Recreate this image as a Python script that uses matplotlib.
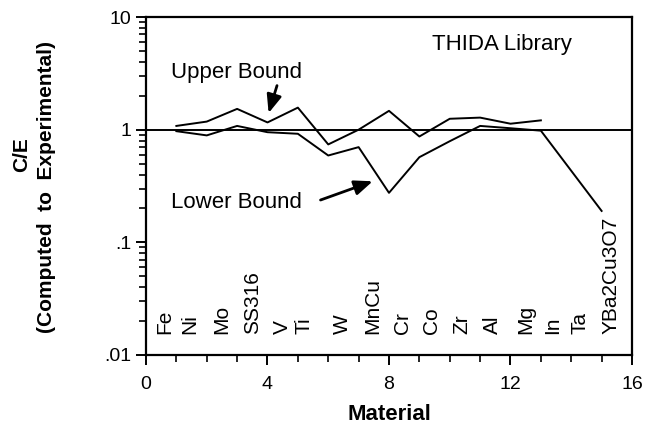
import matplotlib.pyplot as plt
import numpy as np

plt.rcParams['font.family'] = ['Liberation Sans', 'DejaVu Sans']

# C/E ratio per material index
upper_x = [1, 2, 3, 4, 5, 6, 7, 8, 9, 10, 11, 12, 13]
upper_y = [1.08, 1.18, 1.53, 1.16, 1.57, 0.74, 1.0, 1.47, 0.87, 1.25, 1.28, 1.13, 1.21]
lower_x = [1, 2, 3, 4, 5, 6, 7, 8, 9, 10, 11, 12, 13, 15]
lower_y = [0.97, 0.89, 1.08, 0.95, 0.92, 0.59, 0.70, 0.275, 0.57, 0.79, 1.08, 1.03, 0.98, 0.19]

materials = ['Fe', 'Ni', 'Mo', 'SS316', 'V', 'Ti', 'W', 'MnCu', 'Cr', 'Co',
             'Zr', 'Al', 'Mg', 'In', 'Ta', 'YBa2Cu3O7']
mat_pos = [0.62, 1.45, 2.49, 3.52, 4.5, 5.2, 6.48, 7.47, 8.45, 9.4,
           10.4, 11.4, 12.5, 13.4, 14.3, 15.3]

fig = plt.figure(figsize=(6.48, 4.26), dpi=100)
ax = fig.add_axes([0.2253, 0.1667, 0.75, 0.7933])

ax.plot(upper_x, upper_y, color='black', lw=1.4)
ax.plot(lower_x, lower_y, color='black', lw=1.4)
ax.axhline(1.0, color='black', lw=1.4)

ax.set_yscale('log')
ax.set_ylim(0.01, 10)
ax.set_xlim(0, 16)
ax.set_xticks([0, 4, 8, 12, 16])
ax.set_xticks(np.arange(0, 17, 1), minor=True)
ax.set_yticks([0.01, 0.1, 1, 10])
ax.set_yticklabels(['.01', '.1', '1', '10'])
minor_y = [s * d for d in (0.01, 0.1, 1) for s in range(2, 10)]
ax.set_yticks(minor_y, minor=True)
ax.set_yticklabels([], minor=True)
ax.tick_params(axis='both', which='major', direction='out', length=7, width=1.4, labelsize=14)
ax.tick_params(axis='both', which='minor', direction='out', length=5, width=1.2)
ax.tick_params(axis='x', pad=8)
for s in ax.spines.values():
    s.set_linewidth(1.6)

for name, xp in zip(materials, mat_pos):
    ax.text(xp, 0.0155, name, rotation=90, ha='center', va='bottom', fontsize=15)

ax.text(9.41, 5.76, 'THIDA Library', fontsize=16, va='center')
ax.text(0.82, 3.25, 'Upper Bound', fontsize=16, va='center')
ax.text(0.82, 0.224, 'Lower Bound', fontsize=16, va='center')
arrow = dict(arrowstyle='-|>,head_width=0.45,head_length=1.1', color='black', lw=2.0)
ax.annotate('', xy=(4.01, 1.33), xytext=(4.34, 2.6), arrowprops=arrow)
ax.annotate('', xy=(7.55, 0.355), xytext=(5.66, 0.233), arrowprops=arrow)

ax.set_xlabel('Material', fontsize=16, fontweight='bold', labelpad=8)
fig.text(0.033, 1 - 155 / 426, 'C/E', rotation=90, ha='center', va='center',
         fontsize=15, fontweight='bold')
fig.text(0.071, 1 - 187 / 426, '(Computed  to  Experimental)', rotation=90,
         ha='center', va='center', fontsize=15, fontweight='bold')

fig.savefig('out.png', dpi=100)
